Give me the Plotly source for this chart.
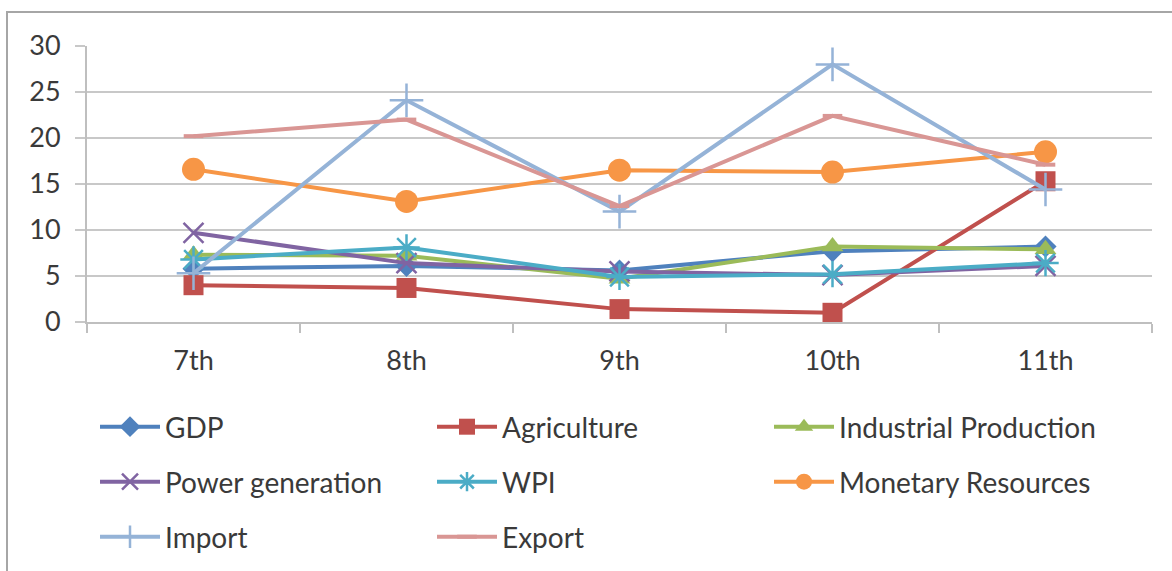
import plotly.graph_objects as go

plans = ["7th", "8th", "9th", "10th", "11th"]
y_ticks = [0, 5, 10, 15, 20, 25, 30]

gdp = [5.8, 6.1, 5.6, 7.7, 8.2]
agriculture = [4.0, 3.7, 1.4, 1.0, 15.3]
industrial = [7.3, 7.2, 4.7, 8.2, 7.9]
power = [9.7, 6.4, 5.5, 5.1, 6.1]
wpi = [6.8, 8.1, 4.9, 5.2, 6.4]
monetary = [16.6, 13.1, 16.5, 16.3, 18.5]
imports = [5.3, 24.1, 12.0, 28.0, 14.4]
exports = [20.2, 22.0, 12.6, 22.4, 17.1]

series = [
    ("GDP", gdp, "#4F81BD", "diamond", 17, 0, "legend"),
    ("Agriculture", agriculture, "#C0504D", "square", 20, 0, "legend"),
    ("Industrial Production", industrial, "#9BBB59", "triangle-up", 19, 0, "legend"),
    ("Power generation", power, "#8064A2", "x-thin", 20, 2.5, "legend2"),
    ("WPI", wpi, "#4BACC6", "asterisk", 22, 2.5, "legend2"),
    ("Monetary Resources", monetary, "#F79646", "circle", 23, 0, "legend2"),
    ("Import", imports, "#95B3D7", "cross-thin", 24, 2.5, "legend3"),
    ("Export", exports, "#D99694", "line-ew", 14, 4, "legend3"),
]

fig = go.Figure()
for name, vals, color, sym, size, lw, leg in series:
    marker = dict(symbol=sym, size=size, color=color)
    if lw:
        marker["line"] = dict(color=color, width=lw)
    else:
        marker["line"] = dict(width=0)
    fig.add_trace(go.Scatter(
        x=plans, y=vals, name=name, mode="lines+markers",
        line=dict(color=color, width=4), marker=marker, legend=leg,
    ))

FONT = "Lato"
TXT = "#3A3A3A"
W, H = 1172, 571
L, R, T, B = 87, 20, 46, 249
pw = W - L - R
ph = H - T - B

def px_x(px):
    return (px - L) / pw

def px_y(py):
    return (H - B - py) / ph

leg_common = dict(
    orientation="h", xanchor="left", yanchor="middle",
    font=dict(family=FONT, size=28, color=TXT),
    entrywidth=262, entrywidthmode="pixels", itemwidth=60,
    bgcolor="rgba(0,0,0,0)", traceorder="normal",
)

fig.update_layout(
    width=W, height=H,
    margin=dict(l=L, r=R, t=T, b=B, autoexpand=False),
    paper_bgcolor="white", plot_bgcolor="white",
    font=dict(family=FONT, size=27, color=TXT),
    showlegend=True,
    legend=dict(x=px_x(95), y=px_y(427), **leg_common),
    legend2=dict(x=px_x(95), y=px_y(482), **leg_common),
    legend3=dict(x=px_x(95), y=px_y(537), **leg_common),
    xaxis=dict(
        type="category", showgrid=False, showline=True,
        linecolor="#BFBFBF", linewidth=2,
        ticks="outside", tickson="boundaries", ticklen=9,
        tickcolor="#BFBFBF", tickwidth=2,
        ticklabelstandoff=14,
        tickfont=dict(family=FONT, size=27, color=TXT),
        range=[-0.5, 4.5], fixedrange=True,
    ),
    yaxis=dict(
        range=[0, 30], tickvals=y_ticks, showgrid=True,
        gridcolor="#C8C8C8", gridwidth=2,
        showline=True, linecolor="#BFBFBF", linewidth=2,
        ticks="outside", ticklen=10, tickcolor="#C8C8C8", tickwidth=2,
        ticklabelstandoff=9, zeroline=False,
        tickfont=dict(family=FONT, size=27, color=TXT),
    ),
    shapes=[dict(
        type="rect", xref="paper", yref="paper", layer="below",
        x0=px_x(7), x1=px_x(W + 10), y0=px_y(H + 10), y1=px_y(12),
        line=dict(color="#A6A6A6", width=2), fillcolor="rgba(0,0,0,0)",
    )],
)

fig.write_html("out.html")
